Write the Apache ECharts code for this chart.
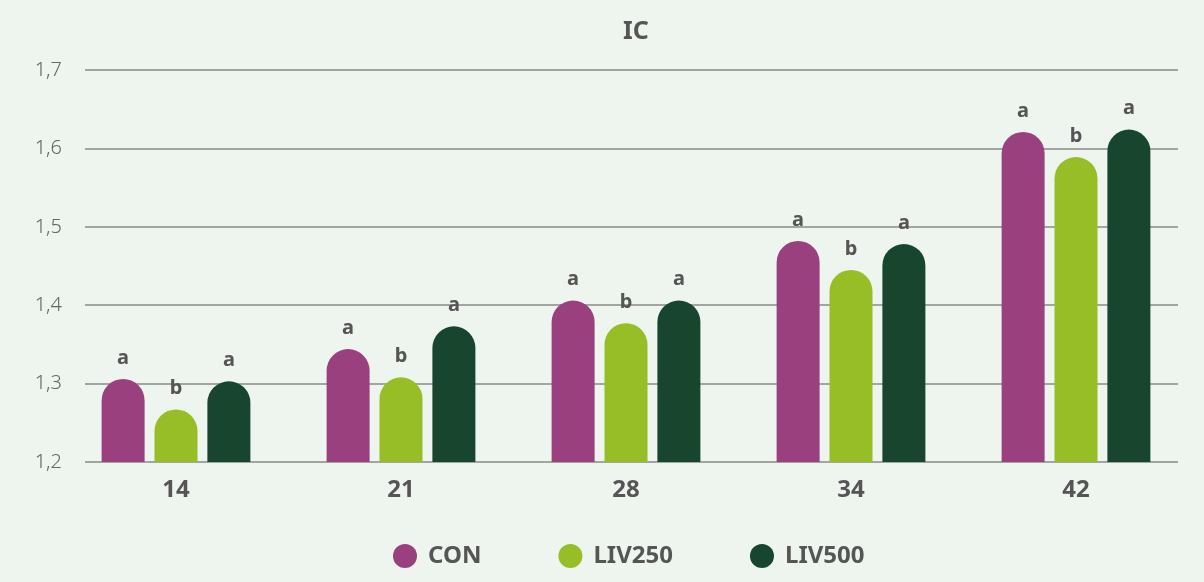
<!DOCTYPE html>
<html lang="pt" style="height: 100%">
<head>
  <meta charset="utf-8">
</head>
<body style="height: 100%; margin: 0; background: #eef5ef">
  <div id="container" style="width: 1204px; height: 582px"></div>

  <script type="text/javascript" src="https://cdn.jsdelivr.net/npm/echarts@6/dist/echarts.min.js"></script>
  <script type="text/javascript">
    // dados
    const days = ['14', '21', '28', '34', '42'];
    const yTicks = [1.2, 1.3, 1.4, 1.5, 1.6, 1.7];
    const con = [1.306, 1.344, 1.406, 1.482, 1.621];
    const liv250 = [1.267, 1.308, 1.377, 1.445, 1.589];
    const liv500 = [1.303, 1.373, 1.406, 1.478, 1.624];
    const letrasCon = ['a', 'a', 'a', 'a', 'a'];
    const letrasLiv250 = ['b', 'b', 'b', 'b', 'b'];
    const letrasLiv500 = ['a', 'a', 'a', 'a', 'a'];

    var myChart = echarts.init(document.getElementById('container'));

    const font = '"Noto Sans", "Open Sans", sans-serif';

    function serie(name, values, letras, color) {
      return {
        name: name,
        type: 'bar',
        xAxisIndex: 1,
        yAxisIndex: 1,
        data: values,
        barWidth: 43,
        barGap: '23%',
        itemStyle: { color: color, borderRadius: [21.5, 21.5, 0, 0] },
        label: {
          show: true,
          position: 'top',
          distance: 11,
          formatter: p => letras[p.dataIndex],
          color: '#555',
          fontWeight: 'bold',
          fontSize: 20,
          fontFamily: font
        }
      };
    }

    var option = {
      backgroundColor: '#eef5ef',
      animation: false,
      title: {
        text: 'IC',
        left: 631,
        top: 14,
        textAlign: 'center',
        textStyle: { color: '#555', fontSize: 25, fontWeight: 'bold', fontFamily: font }
      },
      legend: {
        left: 388,
        top: 539,
        itemWidth: 24,
        itemHeight: 24,
        itemGap: 77,
        icon: 'circle',
        textStyle: { color: '#555', fontSize: 24, fontWeight: 'bold', fontFamily: font, padding: [0, 0, 0, 6] },
        data: ['CON', 'LIV250', 'LIV500']
      },
      grid: [
        { left: 85, right: 26, top: 70, bottom: 120 },
        { left: 63.5, right: 15.5, top: 70, bottom: 120 }
      ],
      xAxis: [
        { type: 'category', gridIndex: 0, data: days, show: false },
        {
          type: 'category',
          gridIndex: 1,
          data: days,
          axisLine: { show: false },
          axisTick: { show: false },
          axisLabel: { color: '#555', fontSize: 24, fontWeight: 'bold', fontFamily: font, margin: 16 }
        }
      ],
      yAxis: [
        {
          type: 'value',
          gridIndex: 0,
          min: yTicks[0],
          max: yTicks[yTicks.length - 1],
          interval: 0.1,
          axisLine: { show: false },
          axisTick: { show: false },
          axisLabel: {
            margin: 23,
            color: '#666',
            fontSize: 20,
            fontWeight: 300,
            fontFamily: font,
            formatter: v => v.toFixed(1).replace('.', ',')
          },
          splitLine: { lineStyle: { color: '#8a8a8a', width: 1.5 } }
        },
        {
          type: 'value',
          gridIndex: 1,
          min: yTicks[0],
          max: yTicks[yTicks.length - 1],
          interval: 0.1,
          show: false,
          splitLine: { show: false }
        }
      ],
      series: [
        serie('CON', con, letrasCon, '#9b407f'),
        serie('LIV250', liv250, letrasLiv250, '#97be26'),
        serie('LIV500', liv500, letrasLiv500, '#18452e')
      ]
    };

    myChart.setOption(option);
    window.addEventListener('resize', myChart.resize);
  </script>
</body>
</html>
